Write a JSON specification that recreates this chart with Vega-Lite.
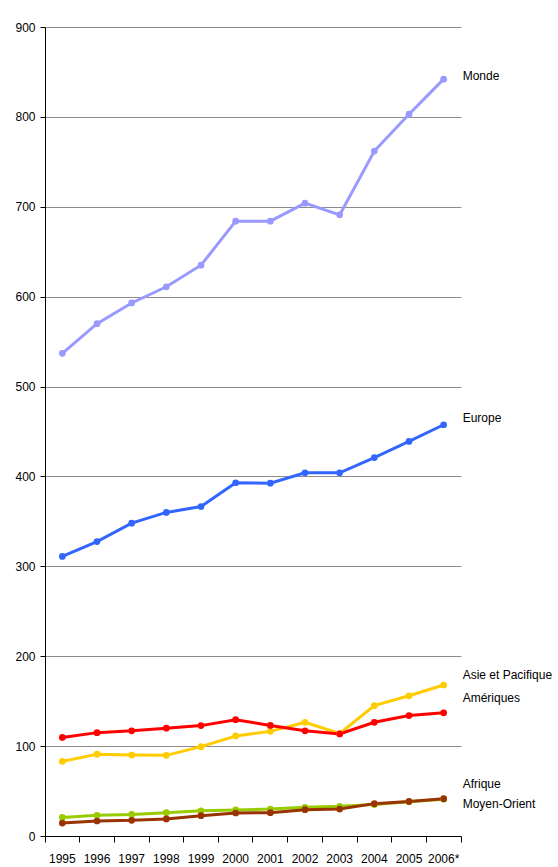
{
  "$schema": "https://vega.github.io/schema/vega-lite/v6.json",
  "width": 416,
  "height": 809,
  "autosize": {"type": "none"},
  "padding": {"left": 45, "top": 27, "right": 97, "bottom": 31},
  "background": "white",
  "config": {"view": {"stroke": null}, "font": "Liberation Sans"},
  "datasets": {
    "series": [
      {"region": "Monde", "year": "1995", "value": 537},
      {"region": "Monde", "year": "1996", "value": 570},
      {"region": "Monde", "year": "1997", "value": 593},
      {"region": "Monde", "year": "1998", "value": 611},
      {"region": "Monde", "year": "1999", "value": 635},
      {"region": "Monde", "year": "2000", "value": 684},
      {"region": "Monde", "year": "2001", "value": 684},
      {"region": "Monde", "year": "2002", "value": 704},
      {"region": "Monde", "year": "2003", "value": 691},
      {"region": "Monde", "year": "2004", "value": 762},
      {"region": "Monde", "year": "2005", "value": 803},
      {"region": "Monde", "year": "2006*", "value": 842},
      {"region": "Europe", "year": "1995", "value": 311},
      {"region": "Europe", "year": "1996", "value": 327.6},
      {"region": "Europe", "year": "1997", "value": 348},
      {"region": "Europe", "year": "1998", "value": 360},
      {"region": "Europe", "year": "1999", "value": 366.5},
      {"region": "Europe", "year": "2000", "value": 393},
      {"region": "Europe", "year": "2001", "value": 392.5},
      {"region": "Europe", "year": "2002", "value": 404},
      {"region": "Europe", "year": "2003", "value": 404},
      {"region": "Europe", "year": "2004", "value": 421},
      {"region": "Europe", "year": "2005", "value": 439},
      {"region": "Europe", "year": "2006*", "value": 457.5},
      {"region": "Asie et Pacifique", "year": "1995", "value": 83},
      {"region": "Asie et Pacifique", "year": "1996", "value": 91},
      {"region": "Asie et Pacifique", "year": "1997", "value": 90},
      {"region": "Asie et Pacifique", "year": "1998", "value": 89.7},
      {"region": "Asie et Pacifique", "year": "1999", "value": 99.4},
      {"region": "Asie et Pacifique", "year": "2000", "value": 111.3},
      {"region": "Asie et Pacifique", "year": "2001", "value": 116.4},
      {"region": "Asie et Pacifique", "year": "2002", "value": 126.5},
      {"region": "Asie et Pacifique", "year": "2003", "value": 114},
      {"region": "Asie et Pacifique", "year": "2004", "value": 145},
      {"region": "Asie et Pacifique", "year": "2005", "value": 156},
      {"region": "Asie et Pacifique", "year": "2006*", "value": 168},
      {"region": "Amériques", "year": "1995", "value": 109.7},
      {"region": "Amériques", "year": "1996", "value": 115},
      {"region": "Amériques", "year": "1997", "value": 117},
      {"region": "Amériques", "year": "1998", "value": 120},
      {"region": "Amériques", "year": "1999", "value": 122.8},
      {"region": "Amériques", "year": "2000", "value": 129.4},
      {"region": "Amériques", "year": "2001", "value": 123},
      {"region": "Amériques", "year": "2002", "value": 117},
      {"region": "Amériques", "year": "2003", "value": 113.5},
      {"region": "Amériques", "year": "2004", "value": 126.5},
      {"region": "Amériques", "year": "2005", "value": 134},
      {"region": "Amériques", "year": "2006*", "value": 137},
      {"region": "Afrique", "year": "1995", "value": 20.7},
      {"region": "Afrique", "year": "1996", "value": 23},
      {"region": "Afrique", "year": "1997", "value": 24},
      {"region": "Afrique", "year": "1998", "value": 26},
      {"region": "Afrique", "year": "1999", "value": 28},
      {"region": "Afrique", "year": "2000", "value": 29},
      {"region": "Afrique", "year": "2001", "value": 30},
      {"region": "Afrique", "year": "2002", "value": 32},
      {"region": "Afrique", "year": "2003", "value": 33},
      {"region": "Afrique", "year": "2004", "value": 35},
      {"region": "Afrique", "year": "2005", "value": 38},
      {"region": "Afrique", "year": "2006*", "value": 41},
      {"region": "Moyen-Orient", "year": "1995", "value": 14.4},
      {"region": "Moyen-Orient", "year": "1996", "value": 16.7},
      {"region": "Moyen-Orient", "year": "1997", "value": 17.4},
      {"region": "Moyen-Orient", "year": "1998", "value": 19},
      {"region": "Moyen-Orient", "year": "1999", "value": 22.6},
      {"region": "Moyen-Orient", "year": "2000", "value": 25.6},
      {"region": "Moyen-Orient", "year": "2001", "value": 26},
      {"region": "Moyen-Orient", "year": "2002", "value": 29.3},
      {"region": "Moyen-Orient", "year": "2003", "value": 30},
      {"region": "Moyen-Orient", "year": "2004", "value": 36},
      {"region": "Moyen-Orient", "year": "2005", "value": 38.5},
      {"region": "Moyen-Orient", "year": "2006*", "value": 41.5}
    ],
    "labels": [
      {"region": "Monde", "year": "2006*", "value": 846},
      {"region": "Europe", "year": "2006*", "value": 464.5},
      {"region": "Asie et Pacifique", "year": "2006*", "value": 179.5},
      {"region": "Amériques", "year": "2006*", "value": 154},
      {"region": "Afrique", "year": "2006*", "value": 58},
      {"region": "Moyen-Orient", "year": "2006*", "value": 36}
    ]
  },
  "layer": [
    {
      "data": {"name": "series"},
      "mark": {"type": "line", "strokeWidth": 3, "point": {"size": 45, "filled": true, "opacity": 1}},
      "encoding": {
        "x": {
          "field": "year", "type": "ordinal", "sort": null,
          "scale": {"type": "band", "paddingInner": 0, "paddingOuter": 0},
          "axis": {
            "title": null, "bandPosition": 1, "tickExtra": true,
            "domainColor": "#000000", "tickColor": "#000000", "tickSize": 6,
            "labelAngle": 0, "labelFontSize": 12, "labelColor": "#000000",
            "labelPadding": 11, "grid": false
          }
        },
        "y": {
          "field": "value", "type": "quantitative",
          "scale": {"domain": [0, 900], "nice": false, "zero": true},
          "axis": {
            "title": null, "values": [0, 100, 200, 300, 400, 500, 600, 700, 800, 900],
            "grid": true, "gridColor": "#8c8c8c", "gridWidth": 1,
            "domainColor": "#000000", "tickColor": "#000000", "tickSize": 5,
            "labelFontSize": 12, "labelColor": "#000000", "labelPadding": 5
          }
        },
        "color": {
          "field": "region", "type": "nominal", "legend": null,
          "scale": {
            "domain": ["Monde", "Europe", "Asie et Pacifique", "Amériques", "Afrique", "Moyen-Orient"],
            "range": ["#9999ff", "#3366ff", "#ffcc00", "#ff0000", "#99cc00", "#993300"]
          }
        }
      }
    },
    {
      "data": {"name": "labels"},
      "mark": {"type": "text", "align": "left", "baseline": "middle", "dx": 19, "fontSize": 12, "color": "#000000"},
      "encoding": {
        "x": {"field": "year", "type": "ordinal", "sort": null},
        "y": {"field": "value", "type": "quantitative"},
        "text": {"field": "region"}
      }
    }
  ]
}
